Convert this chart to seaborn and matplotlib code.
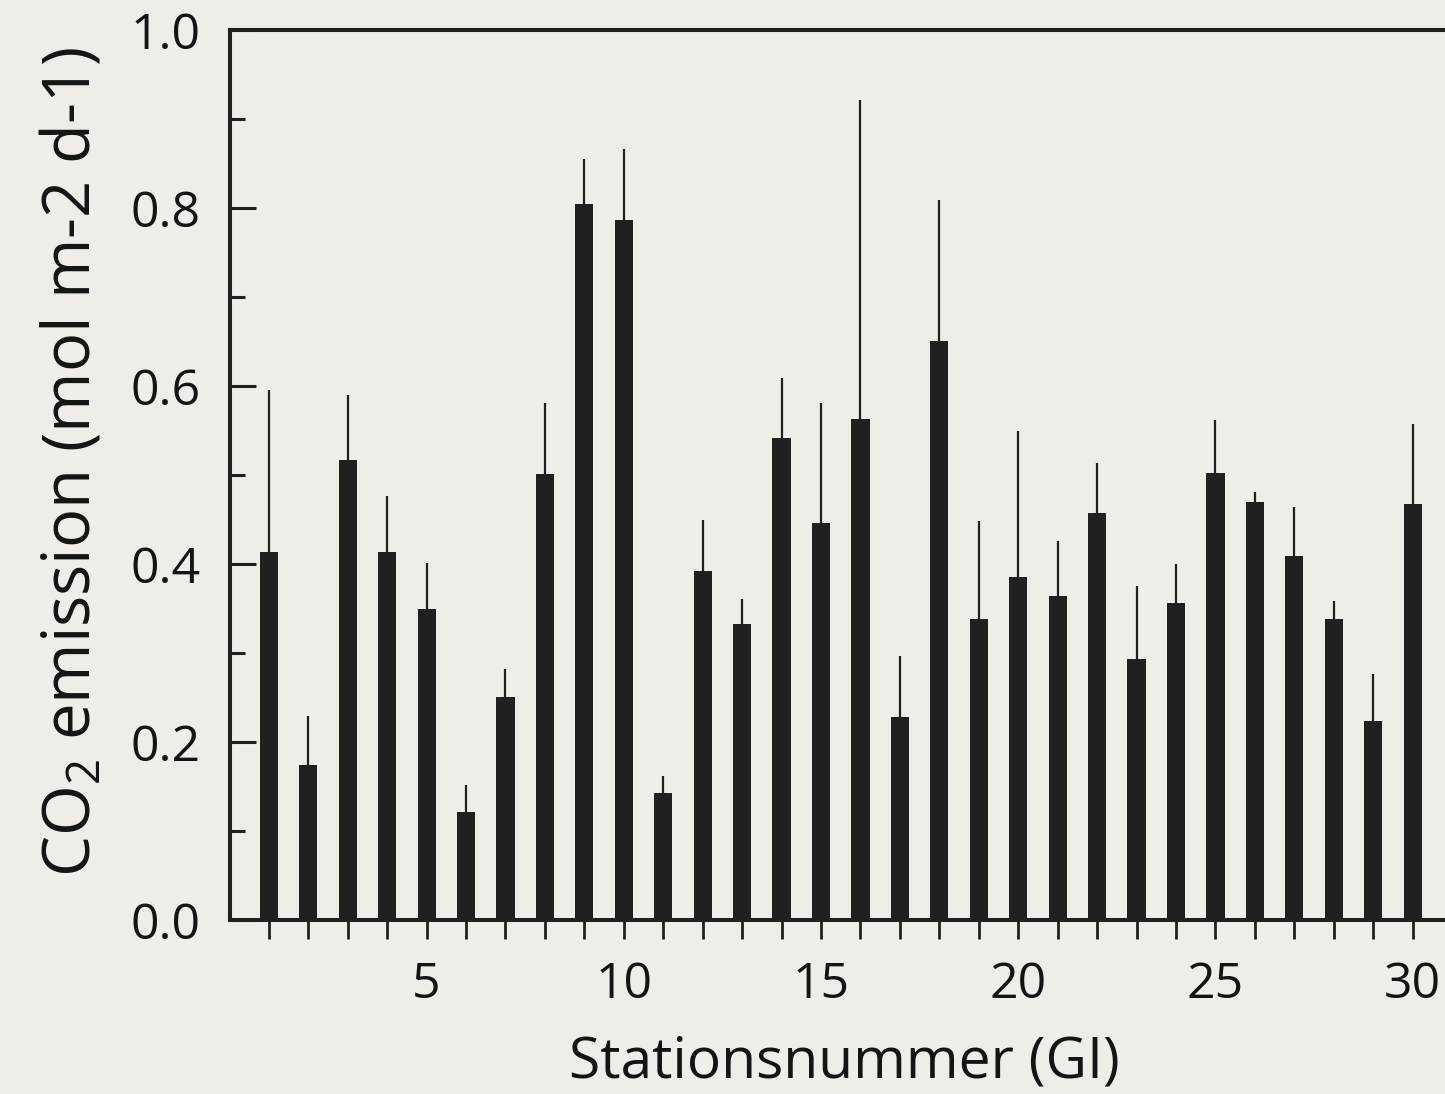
import matplotlib
matplotlib.use("Agg")
import matplotlib.pyplot as plt
import seaborn as sns
import numpy as np
import pandas as pd
from matplotlib.ticker import MultipleLocator, FixedLocator, FuncFormatter

# CO2 emission per station (mean and upper error)
stations = list(range(1, 31))
emission = [0.413, 0.174, 0.517, 0.413, 0.350, 0.121, 0.251, 0.501, 0.805, 0.787,
            0.143, 0.392, 0.333, 0.542, 0.446, 0.563, 0.228, 0.651, 0.338, 0.385,
            0.364, 0.457, 0.293, 0.356, 0.502, 0.470, 0.409, 0.338, 0.224, 0.468]
upper_err = [0.183, 0.055, 0.073, 0.063, 0.051, 0.031, 0.031, 0.080, 0.050, 0.079,
             0.019, 0.058, 0.028, 0.067, 0.135, 0.358, 0.069, 0.158, 0.110, 0.164,
             0.062, 0.056, 0.082, 0.044, 0.060, 0.011, 0.055, 0.021, 0.052, 0.089]
x_labels = [5, 10, 15, 20, 25, 30]

df = pd.DataFrame({"station": stations, "emission": emission})

sns.set_theme(style="ticks")
plt.rcParams["font.family"] = ["Open Sans", "DejaVu Sans"]
plt.rcParams["mathtext.fontset"] = "custom"
plt.rcParams["mathtext.rm"] = "Open Sans"
plt.rcParams["mathtext.it"] = "Open Sans"

bg = "#f0ede8"
ink = "#231f20"
txt = "#141414"

fig = plt.figure(figsize=(14.45, 10.94), dpi=100, facecolor=bg)
ax = fig.add_axes([0.159, 0.159, 0.841, 0.8135])
ax.set_facecolor(bg)

sns.barplot(data=df, x="station", y="emission", native_scale=True, width=0.46,
            color=ink, saturation=1, edgecolor=ink, linewidth=0, ax=ax)
ax.errorbar(stations, emission, yerr=[np.zeros(len(emission)), upper_err],
            fmt="none", ecolor=ink, elinewidth=1.6, capsize=0, zorder=3)

ax.set_xlim(0.01, 30.82)
ax.set_ylim(0, 1.0)

ax.xaxis.set_major_locator(FixedLocator(stations))
ax.xaxis.set_major_formatter(FuncFormatter(lambda v, p: f"{int(round(v))}" if int(round(v)) in x_labels else ""))
ax.yaxis.set_major_locator(MultipleLocator(0.2))
ax.yaxis.set_minor_locator(MultipleLocator(0.1))
ax.yaxis.set_major_formatter(FuncFormatter(lambda v, p: f"{v:.1f}"))

ax.tick_params(axis="x", which="major", direction="out", length=14, width=2,
               color=ink, labelsize=36, labelcolor=txt, pad=15)
ax.tick_params(axis="y", which="major", direction="in", length=19, width=2.2,
               color=ink, labelsize=36, labelcolor=txt, pad=21)
ax.tick_params(axis="y", which="minor", direction="in", length=11, width=2.2, color=ink)

for side in ["left", "top", "bottom"]:
    ax.spines[side].set_linewidth(2.9)
    ax.spines[side].set_color(ink)
ax.spines["right"].set_visible(False)

ax.set_xlabel("Stationsnummer (GI)", fontsize=41, color=txt, labelpad=18)
ax.xaxis.label.set_x(0.506)
ax.set_ylabel("CO$_2$ emission (mol m-2 d-1)", fontsize=47, color=txt, labelpad=18)
ax.yaxis.label.set_y(0.515)

fig.savefig("out.png", dpi=100, facecolor=bg)
